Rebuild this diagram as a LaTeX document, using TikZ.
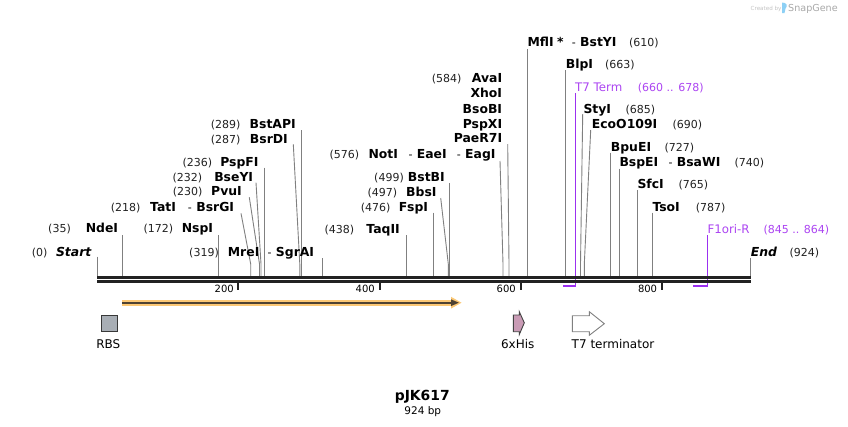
\documentclass[tikz,border=0pt]{standalone}
\usepackage{fontspec}
\setmainfont{DejaVu Sans}
\definecolor{bbcol}{HTML}{222222}
\definecolor{sitecol}{HTML}{808080}
\definecolor{violetline}{RGB}{155,48,240}
\definecolor{purptext}{RGB}{172,69,242}
\definecolor{numcol}{HTML}{222222}
\definecolor{halocol}{HTML}{FCC875}
\definecolor{orfcol}{HTML}{4E4232}
\definecolor{rbsfill}{HTML}{A8AEB5}
\definecolor{hisfill}{HTML}{C99BB5}
\definecolor{wmgray}{HTML}{A8A8A8}
\definecolor{wmlight}{HTML}{C4C4C4}
\definecolor{wmblue}{HTML}{8DD0F5}
\begin{document}
\begin{tikzpicture}[x=1pt,y=-1pt,
  num/.style={inner sep=0pt, text=numcol, font=\fontsize{11}{12}\selectfont},
  nm/.style={inner sep=0pt, font=\fontsize{12.4}{14}\selectfont\bfseries},
  nmi/.style={inner sep=0pt, font=\fontsize{12.4}{14}\selectfont\bfseries\itshape},
  hy/.style={inner sep=0pt, font=\fontsize{11}{14}\selectfont},
  pnm/.style={inner sep=0pt, text=purptext, font=\fontsize{11.8}{14}\selectfont},
  pnum/.style={inner sep=0pt, text=purptext, font=\fontsize{11}{12}\selectfont},
  siteline/.style={draw=sitecol, line width=0.9pt},
  ticklab/.style={inner sep=0pt, font=\fontsize{10}{12}\selectfont, anchor=base east},
  featlab/.style={inner sep=0pt, font=\fontsize{12}{14}\selectfont, anchor=base},
  tickmark/.style={draw=bbcol, line width=2pt}
]
\useasboundingbox (0,0) rectangle (848,426);
\fill[white] (0,0) rectangle (848,426);

% ---- watermark
\node[inner sep=0pt, anchor=base west, text=wmlight, font=\fontsize{5.6}{7}\selectfont] (wm1) at (750.5,10) {Created by};
\fill[wmblue] (782,2.5) .. controls (787,2.5) and (788,6) .. (785.5,8.5) -- (784.5,13) -- (782,13) -- cycle;
\node[inner sep=0pt, anchor=base west, text=wmgray, font=\fontsize{9.6}{11}\selectfont] (wm2) at (788,11) {SnapGene};

% ---- site lines
\draw[siteline] (97.3,256.7) -- (97.3,276);
\draw[siteline] (122.7,235.3) -- (122.7,276);
\draw[siteline] (218.3,235.3) -- (218.3,276);
\draw[siteline] (322.3,258.3) -- (322.3,276);
\draw[siteline] (241,213.3) -- (250.7,264) -- (250.7,276);
\draw[siteline] (249.3,197.3) -- (259.5,264) -- (259.5,276);
\draw[siteline] (256,182.7) -- (261,264) -- (261,276);
\draw[siteline] (264.3,167.7) -- (264.3,276);
\draw[siteline] (293.3,144.3) -- (299.8,264) -- (299.8,276);
\draw[siteline] (301.2,130) -- (301.2,276);
\draw[siteline] (406.3,235) -- (406.3,276);
\draw[siteline] (433.7,212.7) -- (433.7,276);
\draw[siteline] (440.7,198) -- (448.3,264) -- (448.3,276);
\draw[siteline] (449.3,183.3) -- (449.3,276);
\draw[siteline] (500,161) -- (503,264) -- (503,276);
\draw[siteline] (507.7,144) -- (509,264) -- (509,276);
\draw[siteline] (527.3,49) -- (527.3,276);
\draw[siteline] (565.3,70) -- (565.3,276);
\draw[siteline] (582.7,114) -- (580.5,264) -- (580.5,276);
\draw[siteline] (590.7,130) -- (584.3,264) -- (584.3,276);
\draw[siteline] (610.3,152.7) -- (610.3,276);
\draw[siteline] (619.3,168.7) -- (619.3,276);
\draw[siteline] (637.3,190) -- (637.3,276);
\draw[siteline] (652.3,212.7) -- (652.3,276);
\draw[siteline] (750.3,257.7) -- (750.3,276);

% ---- purple feature markers (filled bars)
\fill[violetline] (574.5,92.7) rectangle (576.1,286.5);
\fill[violetline] (562.5,284.8) rectangle (576.1,286.5);
\fill[violetline] (706.7,234.7) rectangle (708.3,286.5);
\fill[violetline] (693,284.8) rectangle (708.3,286.5);

% ---- backbone
\fill[bbcol] (97,275.7) rectangle (750.8,278.7);
\fill[bbcol] (97,280.3) rectangle (750.8,283);

% ---- ticks
\draw[tickmark] (238,283) -- (238,290);
\draw[tickmark] (379.5,283) -- (379.5,290);
\draw[tickmark] (520.5,283) -- (520.5,290);
\draw[tickmark] (661.5,283) -- (661.5,290);
\node[ticklab] (k200) at (234,292.6) {200};
\node[ticklab] (k400) at (375,292.6) {400};
\node[ticklab] (k600) at (516,292.6) {600};
\node[ticklab] (k800) at (657.3,292.6) {800};

% ---- left labels
\node[num, anchor=base east] (n0) at (47.7,256) {(0)};
\node[nmi, anchor=base east] (s0) at (91.5,256) {Start};
\node[num, anchor=base east] (n35) at (71,232.6) {(35)};
\node[nm, anchor=base east] (s35) at (118.3,232.6) {NdeI};
\node[num, anchor=base east] (n172) at (173.3,232.6) {(172)};
\node[nm, anchor=base east] (s172) at (213.3,232.6) {NspI};
\node[num, anchor=base east] (n319) at (219,256) {(319)};
\node[nm, anchor=base west] (s319a) at (227.7,256) {MreI};
\node[nm, anchor=base east] (s319b) at (314.3,256) {SgrAI};
\node[hy, anchor=base east] (h319) at ([xshift=-4pt]s319b.base west) {-};
\node[num, anchor=base east] (n218) at (140.7,211.6) {(218)};
\node[nm, anchor=base west] (s218a) at (150,211.6) {TatI};
\node[nm, anchor=base east] (s218b) at (234.3,211.6) {BsrGI};
\node[hy, anchor=base east] (h218) at ([xshift=-4pt]s218b.base west) {-};
\node[num, anchor=base east] (n230) at (202.7,195.3) {(230)};
\node[nm, anchor=base east] (s230) at (242,195.3) {PvuI};
\node[num, anchor=base east] (n232) at (202.3,181) {(232)};
\node[nm, anchor=base east] (s232) at (253.3,181) {BseYI};
\node[num, anchor=base east] (n236) at (212.3,166) {(236)};
\node[nm, anchor=base east] (s236) at (258.7,166) {PspFI};
\node[num, anchor=base east] (n287) at (240.7,143.3) {(287)};
\node[nm, anchor=base east] (s287) at (288,143.3) {BsrDI};
\node[num, anchor=base east] (n289) at (240.7,128.3) {(289)};
\node[nm, anchor=base east] (s289) at (296,128.3) {BstAPI};

% ---- middle labels
\node[num, anchor=base east] (n438) at (354.3,233.3) {(438)};
\node[nm, anchor=base east] (s438) at (400,233.3) {TaqII};
\node[num, anchor=base east] (n476) at (390.7,211) {(476)};
\node[nm, anchor=base east] (s476) at (428.3,211) {FspI};
\node[num, anchor=base east] (n497) at (397.3,196.6) {(497)};
\node[nm, anchor=base east] (s497) at (436.7,196.6) {BbsI};
\node[num, anchor=base east] (n499) at (404,181) {(499)};
\node[nm, anchor=base east] (s499) at (445,181) {BstBI};
\node[num, anchor=base east] (n576) at (359.3,158.3) {(576)};
\node[nm, anchor=base west] (s576a) at (368.3,158.3) {NotI};
\node[nm, anchor=base west] (s576b) at (416.7,158.3) {EaeI};
\node[hy, anchor=base east] (h576a) at ([xshift=-4pt]s576b.base west) {-};
\node[nm, anchor=base east] (s576c) at (495.7,158.3) {EagI};
\node[hy, anchor=base east] (h576b) at ([xshift=-4pt]s576c.base west) {-};
\node[num, anchor=base east] (n584) at (461.7,82.6) {(584)};
\node[nm, anchor=base east] (s584a) at (502.3,82.6) {AvaI};
\node[nm, anchor=base east] (s584b) at (502.3,97.6) {XhoI};
\node[nm, anchor=base east] (s584c) at (502.3,113.3) {BsoBI};
\node[nm, anchor=base east] (s584d) at (502.3,128.3) {PspXI};
\node[nm, anchor=base east] (s584e) at (502.3,142.6) {PaeR7I};

% ---- right labels
\node[nm, anchor=base west] (s610a) at (527.3,46.6) {MflI};
\node[nm, anchor=base west] (a610) at ([xshift=3pt]s610a.base east) {*};
\node[nm, anchor=base west] (s610b) at (580,46.6) {BstYI};
\node[hy, anchor=base east] (h610) at ([xshift=-4pt]s610b.base west) {-};
\node[num, anchor=base west] (n610) at (629,46.6) {(610)};
\node[nm, anchor=base west] (s663) at (565.7,68.3) {BlpI};
\node[num, anchor=base west] (n663) at (605,68.3) {(663)};
\node[pnm, anchor=base west] (t7) at (575,91) {T7 Term};
\node[pnum, anchor=base west] (t7n) at (637.7,91) {(660 .. 678)};
\node[nm, anchor=base west] (s685) at (583.3,113.6) {StyI};
\node[num, anchor=base west] (n685) at (625.3,113.6) {(685)};
\node[nm, anchor=base west] (s690) at (591.7,128.6) {EcoO109I};
\node[num, anchor=base west] (n690) at (672.3,128.6) {(690)};
\node[nm, anchor=base west] (s727) at (610.7,151.6) {BpuEI};
\node[num, anchor=base west] (n727) at (664.3,151.6) {(727)};
\node[nm, anchor=base west] (s740a) at (619.3,166.6) {BspEI};
\node[nm, anchor=base west] (s740b) at (676.7,166.6) {BsaWI};
\node[hy, anchor=base east] (h740) at ([xshift=-4pt]s740b.base west) {-};
\node[num, anchor=base west] (n740) at (734.3,166.6) {(740)};
\node[nm, anchor=base west] (s765) at (637.3,188.6) {SfcI};
\node[num, anchor=base west] (n765) at (678.3,188.6) {(765)};
\node[nm, anchor=base west] (s787) at (652.3,211) {TsoI};
\node[num, anchor=base west] (n787) at (695.7,211) {(787)};
\node[pnm, anchor=base west] (f1) at (707.3,233.6) {F1ori-R};
\node[pnum, anchor=base west] (f1n) at (763.3,233.6) {(845 .. 864)};
\node[nmi, anchor=base west] (s924) at (750.7,256) {End};
\node[num, anchor=base west] (n924) at (789.3,256) {(924)};

% ---- ORF arrow
\fill[halocol] (122,299.7) rectangle (453,305.7);
\fill[halocol] (451,296.8) -- (461.5,302.7) -- (451,308.6) -- cycle;
\draw[orfcol, line width=2pt] (122,302.7) -- (452,302.7);
\fill[orfcol] (451,299.3) -- (458.8,302.7) -- (451,306.1) -- cycle;

% ---- RBS
\node[draw=bbcol!90, line width=0.9pt, fill=rbsfill, minimum width=16.5pt, minimum height=16.5pt, inner sep=0pt] (rbs) at (109.3,323.3) {};
\node[featlab] (rbsl) at (108.3,348.7) {RBS};

% ---- 6xHis
\draw[draw=bbcol!85, line width=0.9pt, fill=hisfill] (513.3,315) -- (519.3,315) -- (519.3,311.7) -- (524.3,322.8) -- (519.3,334.5) -- (519.3,331.7) -- (513.3,331.7) -- cycle;
\node[featlab] (hisl) at (517.7,348.7) {6xHis};

% ---- T7 terminator
\draw[draw=sitecol, line width=0.9pt, fill=white] (572.3,315.7) -- (589.3,315.7) -- (589.3,311.7) -- (604.3,323.7) -- (589.3,335.3) -- (589.3,331.7) -- (572.3,331.7) -- cycle;
\node[featlab] (t7l) at (613,348.7) {T7 terminator};

% ---- title
\node[inner sep=0pt, anchor=base, font=\fontsize{13.9}{16}\selectfont\bfseries] (title) at (422.3,400.8) {pJK617};
\node[inner sep=0pt, anchor=base, font=\fontsize{10.5}{12}\selectfont] (size) at (422.8,414.5) {924 bp};
\end{tikzpicture}
\end{document}
